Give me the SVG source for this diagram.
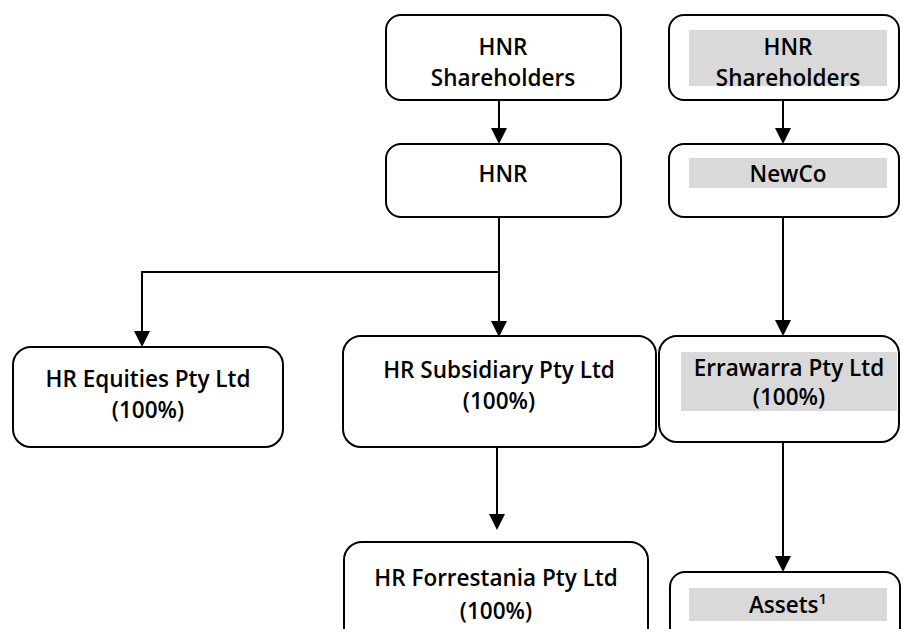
<svg xmlns="http://www.w3.org/2000/svg" width="903" height="629" viewBox="0 0 903 629">
<style>
.box{fill:#fff;stroke:#000;stroke-width:2}
.hl{fill:#d9d9d9}
.t{font-family:"Open Sans","Noto Sans",sans-serif;font-size:22.5px;font-weight:600;fill:#000;text-anchor:middle;dominant-baseline:central}
.c{fill:none;stroke:#000;stroke-width:2}
</style>
<defs>
<marker id="ah" markerWidth="16" markerHeight="18" refX="14" refY="8" orient="auto" markerUnits="userSpaceOnUse" viewBox="0 0 16 16">
<path d="M0,0 L16,8 L0,16 Z" fill="#000"/>
</marker>
</defs>
<g id="connectors">
<line class="c" x1="499" y1="100" x2="499" y2="142" marker-end="url(#ah)"/>
<line class="c" x1="499" y1="217" x2="499" y2="335" marker-end="url(#ah)"/>
<polyline class="c" points="499,272 142,272 142,345" marker-end="url(#ah)"/>
<line class="c" x1="497" y1="447" x2="497" y2="528" marker-end="url(#ah)"/>
<line class="c" x1="783" y1="100" x2="783" y2="142" marker-end="url(#ah)"/>
<line class="c" x1="783" y1="217" x2="783" y2="334" marker-end="url(#ah)"/>
<line class="c" x1="783" y1="442" x2="783" y2="570" marker-end="url(#ah)"/>
</g>
<g id="hnr-shareholders">
<rect class="box" x="386" y="15" width="235" height="85" rx="15"/>
<text class="t" x="503" y="46">HNR</text>
<text class="t" x="503" y="77">Shareholders</text>
</g>
<g id="hnr">
<rect class="box" x="386" y="144" width="235" height="73" rx="15"/>
<text class="t" x="503" y="173">HNR</text>
</g>
<g id="hr-equities">
<rect class="box" x="13" y="347" width="270" height="100" rx="18"/>
<text class="t" x="148" y="378">HR Equities Pty Ltd</text>
<text class="t" x="148" y="409">(100%)</text>
</g>
<g id="hr-subsidiary">
<rect class="box" x="343" y="336" width="313" height="111" rx="18"/>
<text class="t" x="499" y="369">HR Subsidiary Pty Ltd</text>
<text class="t" x="499" y="400">(100%)</text>
</g>
<g id="hr-forrestania">
<rect class="box" x="344" y="542" width="304" height="110" rx="18"/>
<text class="t" x="496" y="577">HR Forrestania Pty Ltd</text>
<text class="t" x="496" y="610">(100%)</text>
</g>
<g id="hnr-shareholders-new">
<rect class="box" x="669" y="15" width="230" height="85" rx="15"/>
<rect class="hl" x="689" y="30" width="198" height="56"/>
<text class="t" x="788" y="46">HNR</text>
<text class="t" x="788" y="77">Shareholders</text>
</g>
<g id="newco">
<rect class="box" x="669" y="144" width="230" height="73" rx="15"/>
<rect class="hl" x="689" y="158" width="198" height="30"/>
<text class="t" x="788" y="173">NewCo</text>
</g>
<g id="errawarra">
<rect class="box" x="659" y="336" width="240" height="106" rx="18"/>
<rect class="hl" x="681" y="352" width="216" height="59"/>
<text class="t" x="789" y="367">Errawarra Pty Ltd</text>
<text class="t" x="789" y="396">(100%)</text>
</g>
<g id="assets">
<rect class="box" x="670" y="572" width="230" height="80" rx="15"/>
<rect class="hl" x="689" y="588" width="198" height="33"/>
<text class="t" x="788" y="604">Assets<tspan font-size="15" dy="-6">1</tspan></text>
</g>
</svg>
